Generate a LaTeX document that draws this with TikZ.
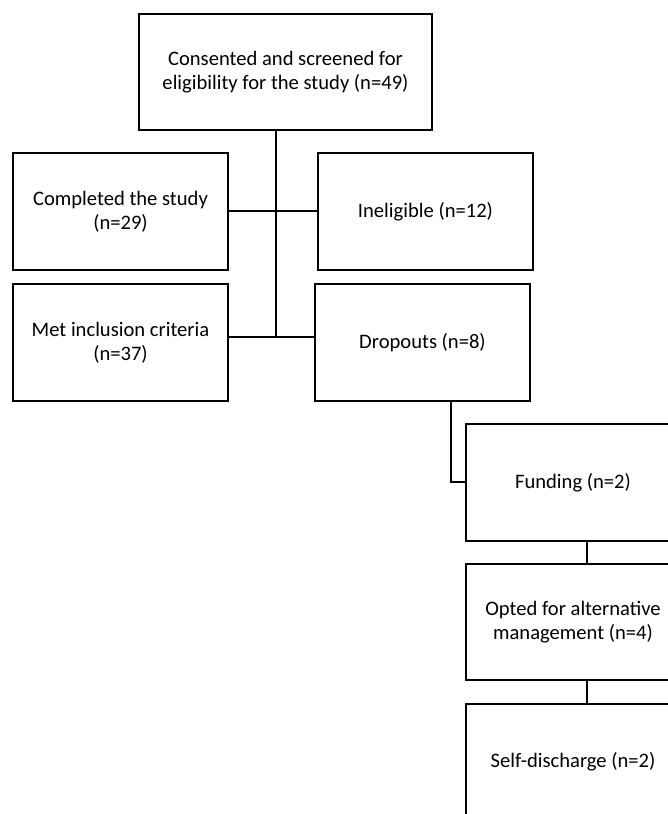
\documentclass[tikz,border=0pt]{standalone}
\usepackage{fontspec}
\setmainfont{Carlito}
\usepackage{tikz}

\begin{document}
\begin{tikzpicture}[x=1pt, y=1pt,
  box/.style={rectangle, draw=black, line width=2pt, minimum width=215pt, minimum height=117pt, inner sep=0pt, align=center, font=\fontsize{20.6}{24}\selectfont},
  link/.style={draw=black, line width=2pt}
]
\useasboundingbox (0,0) rectangle (668,814);
\clip (0,0) rectangle (668,814);

\node[box, minimum width=293pt, minimum height=116pt] (scr) at (285.5,742) {Consented and screened for\\eligibility for the study (n=49)};
\node[box] (comp) at (120.5,602.5) {Completed the study\\(n=29)};
\node[box] (inel) at (425.5,602.5) {Ineligible (n=12)};
\node[box] (met) at (120.5,471.5) {Met inclusion criteria\\(n=37)};
\node[box] (drop) at (422.5,471.5) {Dropouts (n=8)};
\node[box, minimum width=214pt] (fund) at (573,331.5) {Funding (n=2)};
\node[box, minimum height=116pt] (opt) at (573,192) {Opted for alternative\\management (n=4)};
\node[box, minimum height=116pt] (self) at (573,52) {Self-discharge (n=2)};

\coordinate (j) at (276,477);
\coordinate (k) at (451,413);
\coordinate (m) at (587,200);

\draw[link] (scr.south -| j) -- (j);
\draw[link] (comp.east) -- (inel.west);
\draw[link] (met.east |- j) -- (drop.west |- j);
\draw[link] (drop.south -| k) |- (fund.west);
\draw[link] (fund.south -| m) -- (opt.north -| m);
\draw[link] (opt.south -| m) -- (self.north -| m);
\end{tikzpicture}
\end{document}
